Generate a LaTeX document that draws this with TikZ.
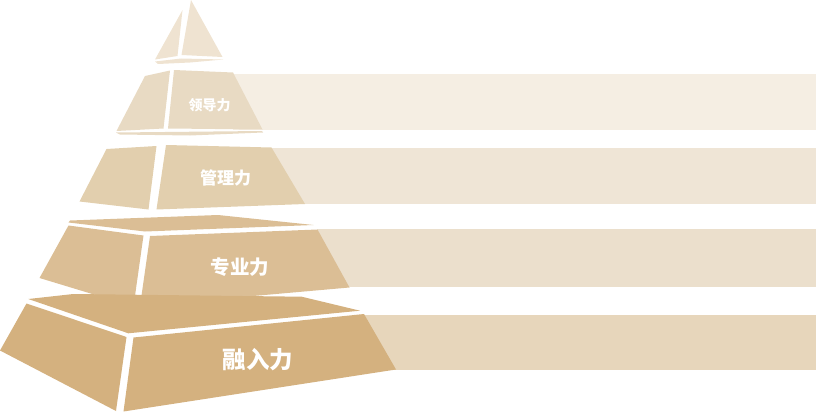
\documentclass[tikz,border=0pt]{standalone}
\usepackage{xcolor}
\usepackage{fontspec}
\newfontfamily\cjk{Noto Sans CJK SC}
\definecolor{tierA}{HTML}{EFE3D1}
\definecolor{tierB}{HTML}{E8DAC3}
\definecolor{tierC}{HTML}{E2CFAE}
\definecolor{tierD}{HTML}{DBBE95}
\definecolor{tierE}{HTML}{D4B17F}
\definecolor{bandB}{HTML}{F5EEE3}
\definecolor{bandC}{HTML}{EFE5D6}
\definecolor{bandD}{HTML}{EBDFCC}
\definecolor{bandE}{HTML}{E7D6BB}
\tikzset{label/.style={text=white, font=\cjk\bfseries, inner sep=0pt}}
\begin{document}
\begin{tikzpicture}[x=1pt, y=-1pt]
	\useasboundingbox (0,0) rectangle (816,412);
	% bands
	\fill[bandB] (233,74) rectangle (816,129.5);
	\fill[bandC] (271,147.5) rectangle (816,203.5);
	\fill[bandD] (317,228.5) rectangle (816,287);
	\fill[bandE] (363,315) rectangle (816,370);
	% top
	\fill[tierA] (182.5,10) -- (177.5,56) -- (155,59.5) -- cycle;
	\fill[tierA] (191,0) -- (222.5,57) -- (181.5,55) -- cycle;
	\fill[tierA] (155,61.5) -- (181,58.5) -- (223,59.5) -- (190,62.5) -- (158,64) -- cycle;
	% second
	\fill[tierB] (145,76) -- (170,70.5) -- (163.5,128.5) -- (116.5,131) -- cycle;
	\fill[tierB] (174,70) -- (233,72.5) -- (262.5,129.5) -- (168,128.5) -- cycle;
	\fill[tierB] (116,132.5) -- (262,131) -- (263,132.5) -- (190,135.5) -- (120,134.5) -- cycle;
	% third
	\fill[tierC] (106.5,149) -- (156.5,146) -- (148.5,209.5) -- (79.5,201.5) -- cycle;
	\fill[tierC] (166,145) -- (271.5,147.5) -- (305,204) -- (156.5,209.5) -- cycle;
	% fourth
	\fill[tierD] (70,220.5) -- (218,215) -- (313.5,225) -- (145,231.5) -- (68.5,222.5) -- cycle;
	\fill[tierD] (68.5,225.5) -- (143.5,235.5) -- (133.5,306.5) -- (39.5,278) -- cycle;
	\fill[tierD] (150,236) -- (317.5,229.5) -- (349.5,287.5) -- (140,306) -- cycle;
	% fifth
	\fill[tierE] (28.3,299) -- (73.3,294) -- (301.7,296.7) -- (360,310.7) -- (128.3,333.3) -- cycle;
	\fill[tierE] (26.5,303.5) -- (126.5,337) -- (116,411) -- (0,350.5) -- cycle;
	\fill[tierE] (133.5,337.5) -- (364,314) -- (396,369.5) -- (123.5,411.5) -- cycle;
	% labels
	\node[label, font=\cjk\bfseries\fontsize{14}{14}\selectfont] (lead) at (209.5,105) {领导力};
	\node[label, font=\cjk\bfseries\fontsize{17}{17}\selectfont] (manage) at (225.5,178.5) {管理力};
	\node[label, font=\cjk\bfseries\fontsize{19.5}{19.5}\selectfont] (prof) at (240,267) {专业力};
	\node[label, font=\cjk\bfseries\fontsize{23.5}{23.5}\selectfont] (fuse) at (258,360) {融入力};
\end{tikzpicture}
\end{document}
